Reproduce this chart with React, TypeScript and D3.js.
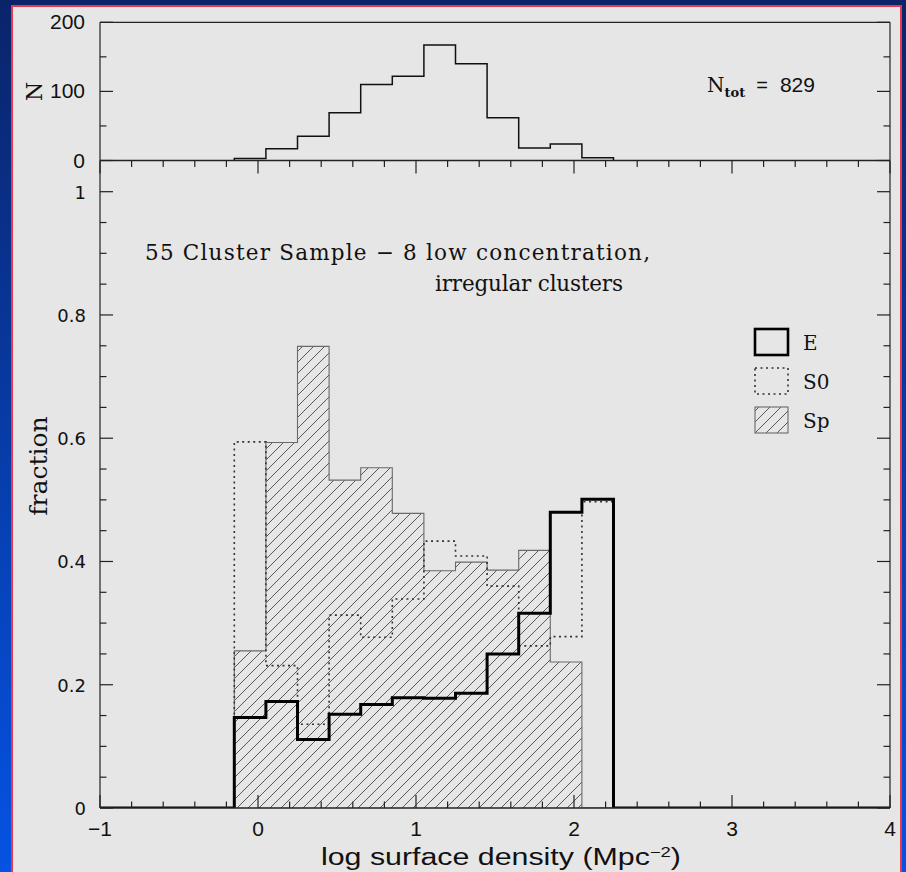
import React from "react";
import * as d3 from "d3";

// ---------- data ----------
const binEdges = [-0.15, 0.05, 0.25, 0.45, 0.65, 0.85, 1.05, 1.25, 1.45, 1.65, 1.85, 2.05, 2.25];
const nCounts = [3, 17, 35, 69, 110, 122, 167, 140, 62, 18, 24, 4];
const fracE = [0.147, 0.173, 0.111, 0.152, 0.168, 0.179, 0.178, 0.186, 0.25, 0.316, 0.48, 0.501];
const fracS0 = [0.594, 0.231, 0.136, 0.313, 0.277, 0.339, 0.433, 0.409, 0.36, 0.263, 0.278, 0.497];
const fracSp = [0.255, 0.593, 0.749, 0.532, 0.552, 0.478, 0.385, 0.399, 0.386, 0.418, 0.237, 0];
const xTickLabels = ["−1", "0", "1", "2", "3", "4"];
const xTickValues = [-1, 0, 1, 2, 3, 4];
const fracTickValues = [0, 0.2, 0.4, 0.6, 0.8, 1];
const fracTickLabels = ["0", "0.2", "0.4", "0.6", "0.8", "1"];
const nTickValues = [0, 100, 200];
const nTickLabels = ["0", "100", "200"];
const legendItems = ["E", "S0", "Sp"];
const titleLine1 = "55 Cluster Sample − 8 low concentration,";
const titleLine2 = "irregular clusters";
const nTotal = 829;

// ---------- layout ----------
const W = 906;
const H = 872;
const X0 = 100, X1 = 890;
const TOP_Y0 = 160.5, TOP_Y1 = 22.3;
const BOT_Y0 = 808, BOT_Y1 = 191.7;

const x = d3.scaleLinear().domain([-1, 4]).range([X0, X1]);
const yN = d3.scaleLinear().domain([0, 200]).range([TOP_Y0, TOP_Y1]);
const yF = d3.scaleLinear().domain([0, 1]).range([BOT_Y0, BOT_Y1]);

function stepPoints(vals: number[], extend: boolean): [number, number][] {
  const pts: [number, number][] = [];
  if (extend) pts.push([-1, 0]);
  pts.push([binEdges[0], 0]);
  vals.forEach((v, i) => {
    pts.push([binEdges[i], v]);
    pts.push([binEdges[i + 1], v]);
  });
  pts.push([binEdges[binEdges.length - 1], 0]);
  if (extend) pts.push([4, 0]);
  return pts;
}

export default function App() {
  const lineF = d3.line<[number, number]>().x((d) => x(d[0])).y((d) => yF(d[1]));
  const lineN = d3.line<[number, number]>().x((d) => x(d[0])).y((d) => yN(d[1]));

  const spPts = stepPoints(fracSp, false);
  const s0Pts = stepPoints(fracS0, false);
  const ePts = stepPoints(fracE, true);
  const nPts = stepPoints(nCounts, false);

  const minorX = d3.range(-1, 4.0001, 0.2);
  const minorF = d3.range(0, 1.0001, 0.05);
  const minorN = d3.range(0, 200.001, 50);

  const tickColor = "#222";
  const serif = "'DejaVu Serif', 'Liberation Serif', serif";
  const sans = "'DejaVu Sans', sans-serif";
  const helv = "'Liberation Sans', Arial, sans-serif";

  return (
    <div style={{ position: "absolute", left: 0, top: 0 }}>
      <svg width={W} height={H} viewBox={`0 0 ${W} ${H}`}>
        <defs>
          <linearGradient id="bg" x1="0" y1="0" x2="0" y2="1">
            <stop offset="0" stopColor="#0a246a" />
            <stop offset="1" stopColor="#0553e4" />
          </linearGradient>
          <pattern id="hatch" patternUnits="userSpaceOnUse" width="11" height="11">
            <line x1="-1" y1="12" x2="12" y2="-1" stroke="#4a4a4a" strokeWidth="0.9" />
          </pattern>
          <clipPath id="plotClip">
            <rect x={X0} y={TOP_Y1} width={X1 - X0} height={BOT_Y0 - TOP_Y1} />
          </clipPath>
        </defs>
        <rect x={0} y={0} width={W} height={H} fill="url(#bg)" />
        <rect x={12} y={6} width={889} height={H} fill="#e6e6e6" stroke="#e8384f" strokeWidth={2} />

        {/* ---------- top panel ---------- */}
        <line x1={X0} x2={X1} y1={TOP_Y1} y2={TOP_Y1} stroke={tickColor} strokeWidth={1.2} />
        <line x1={X0} x2={X0} y1={TOP_Y1} y2={TOP_Y0} stroke={tickColor} strokeWidth={1.2} />
        <line x1={X1} x2={X1} y1={TOP_Y1} y2={TOP_Y0} stroke={tickColor} strokeWidth={1.2} />
        {minorN.map((v) => {
          const len = v % 100 === 0 ? 13 : 6.5;
          return (
            <g key={"tn" + v}>
              <line x1={X0} x2={X0 + len} y1={yN(v)} y2={yN(v)} stroke={tickColor} strokeWidth={1.2} />
              <line x1={X1} x2={X1 - len} y1={yN(v)} y2={yN(v)} stroke={tickColor} strokeWidth={1.2} />
            </g>
          );
        })}
        {nTickValues.map((v, i) => (
          <text key={"ln" + v} x={85} y={yN(v) + 7} textAnchor="end" fontFamily={helv} fontSize={21} fill="#111">
            {nTickLabels[i]}
          </text>
        ))}
        <text transform={`translate(34,${yN(100)}) rotate(-90)`} textAnchor="middle" dominantBaseline="central" fontFamily={serif} fontSize={22} fill="#111">
          N
        </text>
        <path d={lineN(nPts) || ""} fill="none" stroke="#111" strokeWidth={1.5} />
        <text x={707} y={92} fontFamily={serif} fontSize={20} fill="#111">
          N
          <tspan dy={5} fontSize={13} fontWeight="bold">tot</tspan>
          <tspan dy={-5} dx={11} fontFamily={helv} fontSize={20}>=</tspan>
          <tspan dx={12} fontFamily={helv} fontSize={21}>{nTotal}</tspan>
        </text>

        {/* ---------- bottom panel ---------- */}
        <g clipPath="url(#plotClip)">
          <path d={lineF(spPts) || ""} fill="url(#hatch)" stroke="#6a6a6a" strokeWidth={1.1} />
          <path d={lineF(s0Pts) || ""} fill="none" stroke="#333" strokeWidth={1.6} strokeDasharray="2 3.5" />
          <path d={lineF(ePts) || ""} fill="none" stroke="#000" strokeWidth={3} strokeLinejoin="miter" />
        </g>

        <line x1={X0} x2={X1} y1={TOP_Y0} y2={TOP_Y0} stroke={tickColor} strokeWidth={1.4} />
        <line x1={X0} x2={X1} y1={BOT_Y0} y2={BOT_Y0} stroke={tickColor} strokeWidth={1.4} />
        <line x1={X0} x2={X0} y1={TOP_Y0} y2={BOT_Y0} stroke={tickColor} strokeWidth={1.2} />
        <line x1={X1} x2={X1} y1={TOP_Y0} y2={BOT_Y0} stroke={tickColor} strokeWidth={1.2} />

        {minorX.map((v) => {
          const major = Math.abs(v - Math.round(v)) < 1e-6;
          const len = major ? 13 : 6.5;
          return (
            <g key={"tx" + v.toFixed(2)}>
              <line x1={x(v)} x2={x(v)} y1={BOT_Y0} y2={BOT_Y0 - len} stroke={tickColor} strokeWidth={1.2} />
              <line x1={x(v)} x2={x(v)} y1={TOP_Y0} y2={TOP_Y0 + len} stroke={tickColor} strokeWidth={1.2} />
            </g>
          );
        })}
        {minorF.map((v) => {
          const major = Math.abs(v * 5 - Math.round(v * 5)) < 1e-6;
          const len = major ? 13 : 6.5;
          return (
            <g key={"tf" + v.toFixed(2)}>
              <line x1={X0} x2={X0 + len} y1={yF(v)} y2={yF(v)} stroke={tickColor} strokeWidth={1.2} />
              <line x1={X1} x2={X1 - len} y1={yF(v)} y2={yF(v)} stroke={tickColor} strokeWidth={1.2} />
            </g>
          );
        })}
        {fracTickValues.map((v, i) => (
          <text key={"lf" + v} x={86} y={yF(v) + 7} textAnchor="end" fontFamily={sans} fontSize={18} fill="#111">
            {fracTickLabels[i]}
          </text>
        ))}
        {xTickValues.map((v, i) => (
          <text key={"lx" + v} x={x(v)} y={836} textAnchor="middle" fontFamily={helv} fontSize={21} fill="#111">
            {xTickLabels[i]}
          </text>
        ))}
        <text x={501} y={865} textAnchor="middle" fontFamily={helv} fontSize={23} fill="#111" textLength={360} lengthAdjust="spacingAndGlyphs">
          log surface density (Mpc<tspan dy={-8} fontSize={14}>−2</tspan><tspan dy={8}>)</tspan>
        </text>
        <text transform={`translate(38,466) rotate(-90)`} textAnchor="middle" dominantBaseline="central" fontFamily={serif} fontSize={25} fill="#111">
          fraction
        </text>

        <text x={145} y={260} fontFamily={serif} fontSize={21.5} fill="#111" textLength={505} lengthAdjust="spacing">
          {titleLine1}
        </text>
        <text x={435} y={291} fontFamily={serif} fontSize={21.5} fill="#111" textLength={188} lengthAdjust="spacing">
          {titleLine2}
        </text>

        {/* ---------- legend ---------- */}
        {legendItems.map((name, i) => {
          const by = 329 + i * 39;
          const bx = 755;
          const bw = 33, bh = 26;
          let box;
          if (name === "E") box = <rect x={bx} y={by} width={bw} height={bh} fill="none" stroke="#000" strokeWidth={2.6} />;
          else if (name === "S0") box = <rect x={bx} y={by} width={bw} height={bh} fill="none" stroke="#333" strokeWidth={1.6} strokeDasharray="2 3.5" />;
          else box = <rect x={bx} y={by} width={bw} height={bh} fill="url(#hatch)" stroke="#6a6a6a" strokeWidth={1.1} />;
          return (
            <g key={name}>
              {box}
              <text x={803} y={by + bh / 2 + 1} dominantBaseline="central" fontFamily={serif} fontSize={20} fill="#111">
                {name}
              </text>
            </g>
          );
        })}
      </svg>
    </div>
  );
}
